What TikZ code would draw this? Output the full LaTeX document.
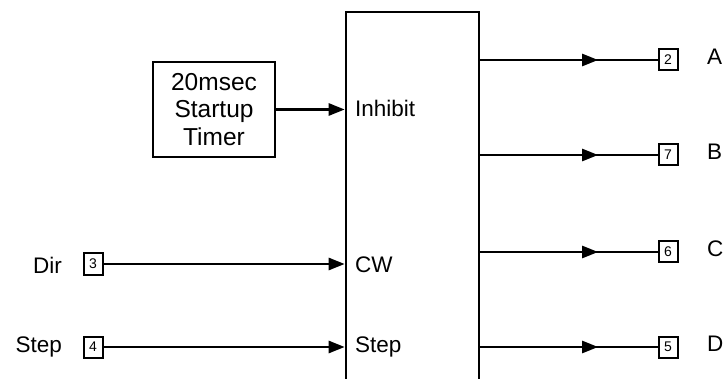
\documentclass[tikz,border=0pt]{standalone}
\usepackage{fontspec}
\setmainfont{Liberation Sans}
\usetikzlibrary{arrows.meta,decorations.markings}
\begin{document}
\begin{tikzpicture}[x=1pt,y=-1pt,
  lbl/.style={font=\fontsize{22.5}{26}\selectfont, inner sep=0pt},
  pin/.style={draw, line width=2pt, minimum width=19pt, minimum height=21pt, inner sep=0pt, font=\fontsize{14}{16}\selectfont},
  wire/.style={line width=2.6pt},
  inarrow/.style={wire, -{Triangle[length=16pt,width=12pt]}},
  outarrow/.style={wire, postaction={decorate}, decoration={markings, mark=at position 0.665 with {\arrow{Triangle[length=16pt,width=12pt]}}}}
]
\useasboundingbox (0,0) rectangle (725,379);
\clip (0,0) rectangle (725,379);
% main block (bottom runs off the picture)
\node[draw, line width=2.6pt, minimum width=133pt, minimum height=400pt, inner sep=0pt] (main) at (412.5,212) {};
% timer
\node[draw, line width=2.6pt, minimum width=122pt, minimum height=95pt, align=center,
      font=\fontsize{24.5}{27.5}\selectfont] (timer) at (214,109.5) {20msec\\Startup\\Timer};
% input pins
\node[pin] (p3) at (93,264) {3};
\node[pin] (p4) at (93,347) {4};
\node[lbl, anchor=east] (ldir) at (62,265) {Dir};
\node[lbl, anchor=east] (lstep) at (62,347) {Step};
% output pins
\node[pin] (p2) at (668,60) {2};
\node[pin] (p7) at (668,155) {7};
\node[pin] (p6) at (668,252) {6};
\node[pin] (p5) at (668,347) {5};
\node[lbl, anchor=west] (la) at (707,57) {A};
\node[lbl, anchor=west] (lb) at (707,152) {B};
\node[lbl, anchor=west] (lc) at (707,249) {C};
\node[lbl, anchor=west] (ld) at (707,344) {D};
% inner labels
\node[lbl, anchor=west] (linh) at (355,108) {Inhibit};
\node[lbl, anchor=west] (lcw) at (355,265) {CW};
\node[lbl, anchor=west] (lst) at (355,347) {Step};
% connectors
\draw[inarrow] (timer.east) -- (main.west |- timer.east);
\draw[inarrow] (p3.east) -- (main.west |- p3.east);
\draw[inarrow] (p4.east) -- (main.west |- p4.east);
\draw[outarrow] (main.east |- p2.west) -- (p2.west);
\draw[outarrow] (main.east |- p7.west) -- (p7.west);
\draw[outarrow] (main.east |- p6.west) -- (p6.west);
\draw[outarrow] (main.east |- p5.west) -- (p5.west);
\end{tikzpicture}
\end{document}
